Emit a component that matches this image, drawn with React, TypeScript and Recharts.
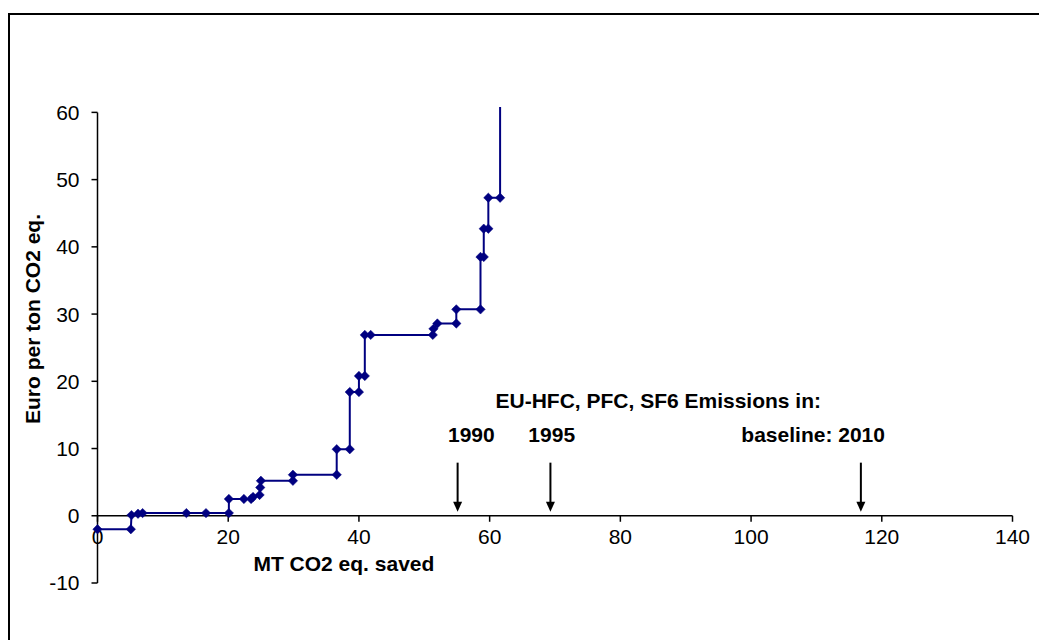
import React from 'react';
import { LineChart, Line, XAxis, YAxis, ReferenceLine, ReferenceDot } from 'recharts';

const FONT = '"Liberation Sans", Arial, Helvetica, sans-serif';

// cumulative savings (MT CO2 eq.) and cost (Euro per ton) along the step curve
const savedMt = [0, 5.1, 5.2, 6.2, 6.9, 13.6, 16.6, 20.1, 20.1, 22.4, 23.5, 23.8, 24.8, 24.9, 25.0, 29.9, 29.9, 36.6, 36.6, 38.6, 38.6, 40.0, 40.0, 40.9, 40.9, 41.8, 51.3, 51.4, 52.0, 54.9, 54.9, 58.6, 58.6, 59.1, 59.1, 59.8, 59.8, 61.6, 61.6];
const costEuro = [-2, -2, 0.1, 0.3, 0.4, 0.4, 0.4, 0.4, 2.5, 2.5, 2.5, 2.8, 3.1, 4.2, 5.2, 5.2, 6.1, 6.1, 9.9, 9.9, 18.4, 18.4, 20.8, 20.8, 26.9, 26.9, 26.9, 27.8, 28.6, 28.6, 30.7, 30.7, 38.5, 38.5, 42.7, 42.7, 47.3, 47.3, 60.8];

const xTicks = [0, 20, 40, 60, 80, 100, 120, 140];
const yTicks = [-10, 0, 10, 20, 30, 40, 50, 60];

// emission-year markers
const yearLabels = ['1990', '1995', 'baseline: 2010'];
const yearArrowX = [55.1, 69.3, 116.8];
const yearLabelX = [57.2, 69.5, 109.5];
const arrowTop = 7.9;
const arrowTip = 0.6;
const yearLabelY = 11.0;

const titleText = 'EU-HFC, PFC, SF6 Emissions in:';
const titleX = 85.8;
const titleY = 16.1;

const xAxisTitle = 'MT CO2 eq. saved';
const xAxisTitleX = 37.7;
const xAxisTitleY = -8.2;
const yAxisTitle = 'Euro per ton CO2 eq.';

const data = savedMt.map((x, i) => ({ x, y: costEuro[i] }));

const NAVY = '#000080';

const Diamond = (props: any) => {
  const { cx, cy, payload, index } = props;
  if (cx == null || cy == null || payload.y > 60) return <g key={`d${index}`} />;
  const s = 4.7;
  return (
    <polygon
      key={`d${index}`}
      points={`${cx},${cy - s} ${cx + s},${cy} ${cx},${cy + s} ${cx - s},${cy}`}
      fill={NAVY}
      stroke={NAVY}
      strokeWidth={0.5}
    />
  );
};

const xTickShape = (label: string) => (p: any) => (
  <g>
    <line x1={p.cx} y1={p.cy} x2={p.cx} y2={p.cy + 6} stroke="#000" strokeWidth={1.5} />
    <text x={p.cx} y={p.cy + 28} textAnchor="middle" fontSize={21} fontFamily={FONT} fill="#000">
      {label}
    </text>
  </g>
);

const textShape = (label: string, bold: boolean) => (p: any) => (
  <text
    x={p.cx}
    y={p.cy}
    textAnchor="middle"
    fontSize={21}
    fontWeight={bold ? 'bold' : 'normal'}
    fontFamily={FONT}
    fill="#000"
  >
    {label}
  </text>
);

const arrowHead = (p: any) => (
  <polygon
    points={`${p.cx},${p.cy} ${p.cx - 4.5},${p.cy - 10} ${p.cx + 4.5},${p.cy - 10}`}
    fill="#000"
  />
);

export default function App() {
  return (
    <div
      style={{
        position: 'absolute',
        left: 0,
        top: 0,
        width: 1039,
        height: 640,
        overflow: 'hidden',
        background: '#fff',
      }}
    >
      <div
        style={{
          position: 'absolute',
          left: 8,
          top: 13,
          width: 1060,
          height: 660,
          border: '2px solid #000',
          boxSizing: 'border-box',
        }}
      />
      <div
        style={{
          position: 'absolute',
          left: 33,
          top: 319,
          transform: 'translate(-50%, -50%) rotate(-90deg)',
          whiteSpace: 'nowrap',
          fontFamily: FONT,
          fontWeight: 'bold',
          fontSize: 21,
          color: '#000',
        }}
      >
        {yAxisTitle}
      </div>
      <div style={{ position: 'absolute', left: 0, top: 0 }}>
        <LineChart
          width={1039}
          height={640}
          data={data}
          margin={{ top: 107, right: 26.5, bottom: 57, left: 37.5 }}
        >
          <XAxis type="number" dataKey="x" domain={[0, 140]} ticks={xTicks} hide />
          <YAxis
            type="number"
            domain={[-10, 60.8]}
            ticks={yTicks}
            width={60}
            axisLine={false}
            tickLine={{ stroke: '#000', strokeWidth: 1.5 }}
            tickSize={6}
            tickMargin={12}
            tick={{ fill: '#000', fontSize: 21, fontFamily: FONT }}
            interval={0}
          />
          <ReferenceLine
            segment={[{ x: 0, y: -10 }, { x: 0, y: 60 }]}
            stroke="#000"
            strokeWidth={1.5}
          />
          <ReferenceLine y={0} stroke="#000" strokeWidth={1.5} />
          {xTicks.map((t) => (
            <ReferenceDot key={`xt${t}`} x={t} y={0} r={0} shape={xTickShape(String(t))} />
          ))}
          {yearArrowX.map((ax, i) => (
            <ReferenceLine
              key={`as${i}`}
              segment={[{ x: ax, y: arrowTop }, { x: ax, y: arrowTip + 1 }]}
              stroke="#000"
              strokeWidth={2}
            />
          ))}
          {yearArrowX.map((ax, i) => (
            <ReferenceDot key={`ah${i}`} x={ax} y={arrowTip} r={0} shape={arrowHead} />
          ))}
          {yearLabels.map((lab, i) => (
            <ReferenceDot
              key={`yl${i}`}
              x={yearLabelX[i]}
              y={yearLabelY}
              r={0}
              shape={textShape(lab, true)}
            />
          ))}
          <ReferenceDot x={titleX} y={titleY} r={0} shape={textShape(titleText, true)} />
          <ReferenceDot
            x={xAxisTitleX}
            y={xAxisTitleY}
            r={0}
            shape={textShape(xAxisTitle, true)}
          />
          <Line
            type="linear"
            dataKey="y"
            stroke={NAVY}
            strokeWidth={2}
            dot={Diamond}
            activeDot={false}
            isAnimationActive={false}
          />
        </LineChart>
      </div>
    </div>
  );
}
